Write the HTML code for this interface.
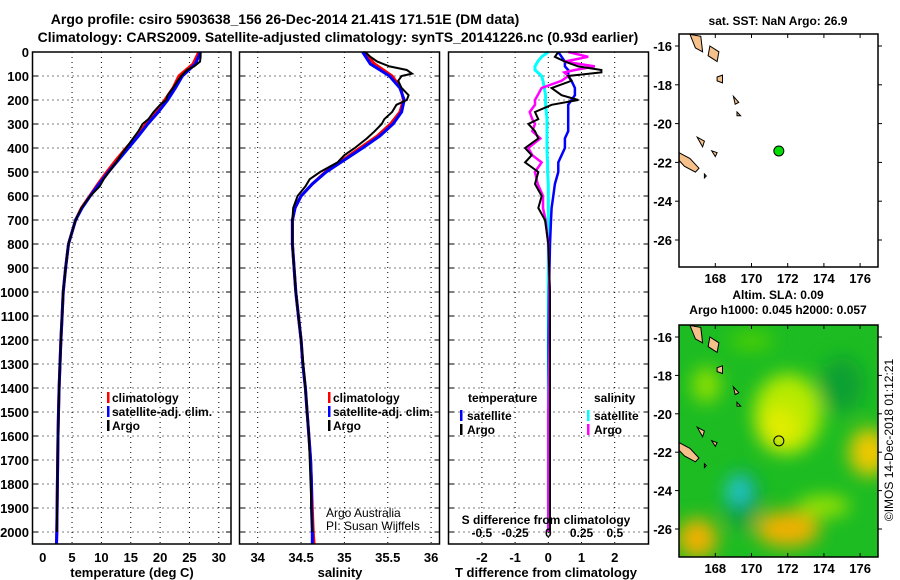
<!DOCTYPE html>
<html><head><meta charset="utf-8">
<style>
body{margin:0;background:#fff;}
svg{display:block;font-family:"Liberation Sans",sans-serif;font-weight:bold;}
</style></head>
<body>
<svg id="c" width="900" height="580" viewBox="0 0 900 580" xmlns="http://www.w3.org/2000/svg">
<defs>
<filter id="blur" x="-20%" y="-20%" width="140%" height="140%"><feGaussianBlur stdDeviation="9"/></filter>
<clipPath id="mapclip"><rect x="679" y="325" width="199" height="232"/></clipPath>
</defs>
<text x="285" y="24" font-size="14" text-anchor="middle">Argo profile: csiro 5903638_156 26-Dec-2014 21.41S 171.51E (DM data)</text>
<text x="338" y="42" font-size="14" text-anchor="middle">Climatology: CARS2009. Satellite-adjusted climatology: synTS_20141226.nc (0.93d earlier)</text>
<g id="g"></g>
</svg>
<script>
// depth grid for climatologies
const depths = [0,50,100,150,200,250,300,350,400,450,500,550,600,650,700,800,900,1000,1100,1200,1300,1400,1500,1600,1700,1800,1900,2000,2050];
const tempClim = [26.6,25.6,23.2,22.2,20.8,19.3,17.6,16.0,14.2,12.5,10.9,9.4,8.0,6.6,5.6,4.4,3.9,3.5,3.3,3.1,2.95,2.8,2.7,2.6,2.55,2.5,2.45,2.4,2.35];
const tempSat  = [26.9,26.0,23.8,22.6,21.3,19.7,17.9,16.3,14.6,12.9,11.2,9.6,8.1,6.7,5.6,4.4,3.9,3.5,3.3,3.1,2.95,2.8,2.7,2.6,2.55,2.5,2.45,2.4,2.35];
const salClim = [35.22,35.35,35.55,35.65,35.68,35.64,35.53,35.38,35.18,34.98,34.78,34.63,34.50,34.43,34.40,34.40,34.42,34.44,34.47,34.50,34.52,34.55,34.57,34.59,34.61,34.62,34.63,34.64,34.65];
const salSat  = [35.21,35.30,35.52,35.64,35.69,35.66,35.56,35.41,35.21,35.0,34.79,34.63,34.50,34.43,34.40,34.40,34.42,34.44,34.47,34.50,34.52,34.55,34.57,34.59,34.61,34.62,34.62,34.63,34.63];
// Argo observed profile
const argoDepth = [0,20,40,60,75,90,100,120,150,180,200,220,250,280,300,330,360,400,430,460,500,530,560,600,650,700,800,900,1000,1200,1400,1600,1800,2000];
const argoTemp  = [26.9,26.9,26.8,25.8,24.6,24.0,23.6,23.0,22.2,21.3,21.0,20.0,18.9,18.0,17.0,16.3,15.4,14.2,13.3,12.5,11.3,10.4,9.7,8.1,6.6,5.6,4.4,3.9,3.5,3.1,2.8,2.6,2.5,2.4];
const argoSal   = [35.24,35.3,35.38,35.52,35.72,35.78,35.66,35.62,35.66,35.74,35.72,35.60,35.55,35.46,35.43,35.35,35.26,35.12,35.0,34.92,34.72,34.6,34.55,34.46,34.41,34.40,34.40,34.42,34.44,34.50,34.55,34.59,34.61,34.63];
// difference panel
const diffDepth = [0,20,40,60,75,85,100,120,150,180,200,220,250,280,300,330,360,400,430,460,500,550,600,650,700,800,1000,1200,1500,2000];
const tDiffArgo = [0.3,0.2,0.5,0.9,1.6,1.6,0.6,0.7,0.1,0.4,0.9,0.1,-0.4,-0.3,-0.6,-0.4,-0.3,-0.7,-0.5,-0.7,-0.3,-0.4,-0.2,-0.3,-0.1,0,0.05,0.05,0.05,0.05];
const tDiffSat  = [0.3,0.4,0.5,0.5,0.6,0.6,0.6,0.7,0.8,0.8,0.7,0.6,0.6,0.6,0.6,0.6,0.5,0.5,0.4,0.3,0.3,0.2,0.15,0.1,0.08,0.05,0.02,0.01,0.01,0.01];
const sDiffArgo = [0.15,0.3,0.12,0.35,0.2,0.12,0.15,0.1,-0.05,-0.08,-0.1,-0.1,-0.14,-0.12,-0.1,-0.12,-0.06,-0.15,-0.12,-0.05,-0.1,-0.08,-0.04,-0.04,-0.02,0,0.01,0.01,0,0];
const sDiffSat  = [0,-0.05,-0.08,-0.1,-0.1,-0.08,-0.05,-0.04,-0.03,-0.02,-0.02,-0.02,-0.015,-0.01,-0.01,-0.01,-0.01,-0.01,-0.008,-0.005,-0.005,0,0,0,0,0,0,0,0,0];
const depthTicks = [0,100,200,300,400,500,600,700,800,900,1000,1100,1200,1300,1400,1500,1600,1700,1800,1900,2000];
const tempTicks = [0,5,10,15,20,25,30];
const salTicks = [34,34.5,35,35.5,36];
const salTickLabels = ["34","34.5","35","35.5","36"];
const tdTicks = [-2,-1,0,1,2];
const sdTicks = [-0.5,-0.25,0,0.25,0.5];
const sdTickLabels = ["-0.5","-0.25","0","0.25","0.5"];
const lonTicks = [168,170,172,174,176];
const latTicks = [-16,-18,-20,-22,-24,-26];
const argoLon = 171.51, argoLat = -21.41;

const NS="http://www.w3.org/2000/svg";
const G=document.getElementById('g');
function mk(t,a,p){const e=document.createElementNS(NS,t);for(const k in a)e.setAttribute(k,a[k]);(p||G).appendChild(e);return e;}

const TOP=52, BOT=544;
const yD = d => TOP + d*0.24;
const P1={l:32.5,r:231}, P2={l:239.5,r:439.5}, P3={l:448.5,r:648.5};
const xT = v => 42.7 + v*5.87;
const xS = v => 257.7 + (v-34)*86.7;
const xTD = v => 548.3 + v*33.2;
const xSD = v => 548.3 + v*133;

function gridV(P,xs){xs.forEach(x=>{const e=mk('line',{x1:x,x2:x,y1:TOP,y2:BOT,stroke:'#000','stroke-width':1,'stroke-dasharray':'1,4'});

});}
function gridH(P){depthTicks.forEach(d=>{const e=mk('line',{x1:P.l,x2:P.r,y1:yD(d),y2:yD(d),stroke:'#000','stroke-width':1,'stroke-dasharray':'1,4'});


mk('line',{x1:P.l,x2:P.l+5,y1:yD(d),y2:yD(d),stroke:'#000'});mk('line',{x1:P.r-5,x2:P.r,y1:yD(d),y2:yD(d),stroke:'#000'});});}
function frame(P,name){const e=mk('rect',{x:P.l,y:TOP,width:P.r-P.l,height:BOT-TOP,fill:'none',stroke:'#000','stroke-width':1.5});

}
function line(xs,ds,fx,color,w,name){const pts=xs.map((v,i)=>fx(v).toFixed(1)+','+yD(ds[i]).toFixed(1)).join(' ');
const e=mk('polyline',{points:pts,fill:'none',stroke:color,'stroke-width':w});

}
function txt(x,y,s,sz,anchor,name,extra){const e=mk('text',Object.assign({x:x,y:y,'font-size':sz,'text-anchor':anchor||'start'},extra||{}));e.textContent=s;

return e;}

// Panel 1
gridV(P1,tempTicks.slice(1).map(xT));gridH(P1);
line(tempClim,depths,xT,'#f00',3,'temp-climatology-line');
line(tempSat,depths,xT,'#00f',3,'temp-satellite-line');
line(argoTemp,argoDepth,xT,'#000',2,'temp-argo-line');
frame(P1,'temperature-panel');
depthTicks.forEach(d=>txt(29,yD(d)+5,String(d),13,'end','depth-tick-label'));
tempTicks.forEach(v=>txt(xT(v),562,String(v),13,'middle','temp-tick-label'));
txt(132,577,'temperature (deg C)',13,'middle','temp-axis-title');
[['#f00','climatology'],['#00f','satellite-adj. clim.'],['#000','Argo']].forEach((L,i)=>{const y=398+i*14;
mk('rect',{x:107,y:y-6,width:2.5,height:11,fill:L[0]});txt(112,y+4,L[1],12,'start','temp-legend-entry');});

// Panel 2
gridV(P2,salTicks.map(xS));gridH(P2);
line(salClim,depths,xS,'#f00',3,'sal-climatology-line');
line(salSat,depths,xS,'#00f',3,'sal-satellite-line');
line(argoSal,argoDepth,xS,'#000',2,'sal-argo-line');
frame(P2,'salinity-panel');
salTicks.forEach((v,i)=>txt(xS(v),562,salTickLabels[i],13,'middle','sal-tick-label'));
txt(340,577,'salinity',13,'middle','sal-axis-title');
[['#f00','climatology'],['#00f','satellite-adj. clim.'],['#000','Argo']].forEach((L,i)=>{const y=398+i*14;
mk('rect',{x:328,y:y-6,width:2.5,height:11,fill:L[0]});txt(333,y+4,L[1],12,'start','sal-legend-entry');});
txt(326,517,'Argo Australia',12,'start','credit-text',{'font-weight':'normal'});
txt(326,530,'PI: Susan Wijffels',12,'start','credit-text',{'font-weight':'normal'});

// Panel 3
gridV(P3,tdTicks.map(xTD));gridH(P3);
line(sDiffSat,diffDepth,xSD,'#0ff',3,'sdiff-satellite-line');
line(tDiffSat,diffDepth,xTD,'#00f',2.5,'tdiff-satellite-line');
line(sDiffArgo,diffDepth,xSD,'#f0f',2.5,'sdiff-argo-line');
line(tDiffArgo,diffDepth,xTD,'#000',2,'tdiff-argo-line');
frame(P3,'difference-panel');
tdTicks.forEach(v=>txt(xTD(v),562,String(v),13,'middle','tdiff-tick-label'));
sdTicks.forEach((v,i)=>txt(xSD(v),537,sdTickLabels[i],12,'middle','sdiff-tick-label'));
txt(546,524,'S difference from climatology',12,'middle','sdiff-axis-title');
txt(546,577,'T difference from climatology',13,'middle','tdiff-axis-title');
txt(468,402,'temperature',12,'start','tdiff-legend-title');
txt(594,402,'salinity',12,'start','sdiff-legend-title');
[['#00f','satellite'],['#000','Argo']].forEach((L,i)=>{const y=416+i*14;
mk('rect',{x:460,y:y-6,width:2.5,height:11,fill:L[0]});txt(467,y+4,L[1],12,'start','tdiff-legend-entry');});
[['#0ff','satellite'],['#f0f','Argo']].forEach((L,i)=>{const y=416+i*14;
mk('rect',{x:587,y:y-6,width:2.5,height:11,fill:L[0]});txt(594,y+4,L[1],12,'start','sdiff-legend-entry');});

// Maps
function mapAxes(top,bottom,yLat,name,xlabels){
  const lonX=l=>715.3+(l-168)*18.1;
  lonTicks.forEach(l=>{mk('line',{x1:lonX(l),x2:lonX(l),y1:top,y2:top+4,stroke:'#000'});mk('line',{x1:lonX(l),x2:lonX(l),y1:bottom-4,y2:bottom,stroke:'#000'});
    if(xlabels) txt(lonX(l),bottom+16,String(l),13,'middle','map-lon-label');});
  latTicks.forEach(l=>{mk('line',{x1:679,x2:675,y1:yLat(l),y2:yLat(l),stroke:'#000'});mk('line',{x1:878,x2:882,y1:yLat(l),y2:yLat(l),stroke:'#000'});
    txt(672,yLat(l)+5,String(l),13,'end','map-lat-label');});
  const e=mk('rect',{x:679,y:top,width:199,height:bottom-top,fill:'none',stroke:'#000','stroke-width':1.5});
  
  
}
function islands(lonX,latY){
  const isl=[[[166.6,-15.4],[167.2,-15.5],[167.3,-16.3],[166.9,-16.1]],[[167.7,-16.0],[168.2,-16.3],[168.1,-16.8],[167.6,-16.5]],[[168.1,-17.6],[168.4,-17.5],[168.4,-17.9],[168.1,-17.8]],
  [[169.0,-18.6],[169.3,-18.9],[169.1,-19.0]],[[169.2,-19.4],[169.4,-19.6],[169.2,-19.6]],[[167.0,-20.7],[167.4,-20.9],[167.3,-21.2]],[[167.8,-21.4],[168.1,-21.5],[168.0,-21.7]],
  [[166.0,-21.5],[166.6,-21.8],[167.1,-22.3],[166.9,-22.5],[166.3,-22.2],[166.0,-21.9]],[[167.4,-22.6],[167.5,-22.7],[167.4,-22.8]]];
  isl.forEach(p=>{const e=mk('polygon',{points:p.map(q=>lonX(q[0]).toFixed(1)+','+latY(q[1]).toFixed(1)).join(' '),fill:'#f5c08a',stroke:'#000','stroke-width':1});
  
  });
}
const lonX=l=>715.3+(l-168)*18.1;
const latTop=l=>46+(-16-l)*19.4;
const latBot=l=>337+(-16-l)*19.2;
// top map
mk('rect',{x:679,y:34,width:199,height:233,fill:'#fff'});
islands(lonX,latTop);
let dot=mk('circle',{cx:lonX(argoLon),cy:latTop(argoLat),r:5,fill:'#0d0',stroke:'#000'});


mapAxes(34,267,latTop,'sst-map',true);
txt(778,25,'sat. SST: NaN Argo: 26.9',12,'middle','sst-map-title');
txt(778,299,'Altim. SLA: 0.09',12,'middle','sla-map-title');
txt(778,314,'Argo h1000: 0.045 h2000: 0.057',12,'middle','sla-map-subtitle');
// bottom map heat field
const hg=mk('g',{'clip-path':'url(#mapclip)'});
mk('rect',{x:679,y:325,width:199,height:232,fill:'#1cbc22'},hg);
const fb=mk('g',{filter:'url(#blur)'},hg);
[[172,-20,34,40,'#b8ea00'],[171.5,-20.8,20,22,'#e0ec00'],[176.5,-22,20,24,'#f0c800'],[172,-26,32,18,'#f0b000'],[167,-26.5,20,20,'#f0b000'],
 [174,-24.8,26,10,'#a0e400'],[167.5,-18.5,14,18,'#90e000'],[175,-18.5,22,28,'#10a030'],[169.5,-24.5,18,30,'#10a040'],[169.3,-24,12,14,'#28c8d0'],[170,-16.2,22,9,'#50d000']].forEach(b=>{
 mk('ellipse',{cx:lonX(b[0]),cy:latBot(b[1]),rx:b[2],ry:b[3],fill:b[4]},fb);});
islands(lonX,latBot);
let ring=mk('circle',{cx:lonX(argoLon),cy:latBot(argoLat),r:5,fill:'none',stroke:'#000'});


mapAxes(325,557,latBot,'sla-map',true);
txt(0,0,'©IMOS 14-Dec-2018 01:12:21',12,'middle','timestamp',{transform:'translate(893,440) rotate(-90)','font-weight':'normal'});
</script>
</body></html>
